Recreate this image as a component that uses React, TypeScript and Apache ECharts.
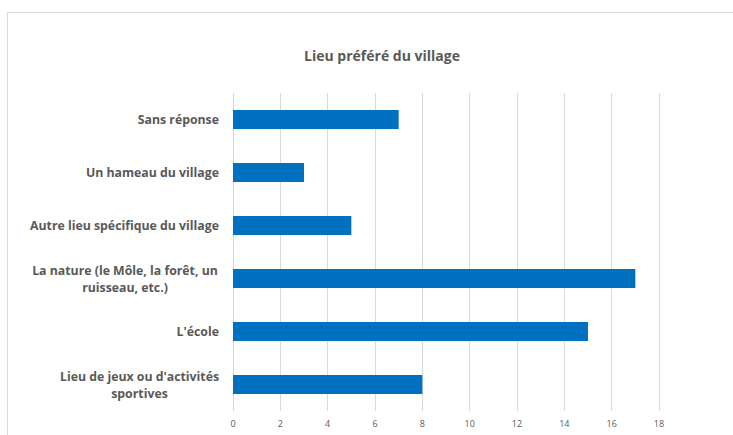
import React, { useEffect, useRef } from "react";
import * as echarts from "echarts";

const categories = [
  "Sans réponse",
  "Un hameau du village",
  "Autre lieu spécifique du village",
  "La nature (le Môle, la forêt, un\nruisseau, etc.)",
  "L'école",
  "Lieu de jeux ou d'activités\nsportives",
];
const values = [7, 3, 5, 17, 15, 8];
const titleText = "Lieu préféré du village";

const FONT = "'Open Sans'";

export default function App() {
  const ref = useRef<HTMLDivElement>(null);
  useEffect(() => {
    document.body.style.margin = "0";
    const chart = echarts.init(ref.current!, null, { renderer: "svg" });
    const labelStyle = {
      fontFamily: FONT,
      fontSize: 12.3,
      fontWeight: "bold",
      color: "#595959",
      lineHeight: 17,
    };
    chart.setOption({
      animation: false,
      backgroundColor: "#ffffff",
      title: {
        text: titleText,
        left: 377,
        top: 43,
        textAlign: "center",
        textStyle: {
          fontFamily: FONT,
          fontSize: 14,
          fontWeight: "bold",
          color: "#595959",
        },
      },
      graphic: [
        {
          type: "rect",
          shape: { x: 7.5, y: 12.5, width: 800, height: 500 },
          style: { fill: "none", stroke: "#d9d9d9", lineWidth: 1 },
          silent: true,
          z: -1,
        },
      ],
      grid: { left: 233, right: 74, top: 93, bottom: 24, containLabel: false },
      xAxis: {
        type: "value",
        min: 0,
        max: 18,
        interval: 2,
        axisLine: { show: false },
        axisTick: { show: false },
        splitLine: { show: true, lineStyle: { color: "#d9d9d9", width: 1 } },
        axisLabel: {
          margin: 8,
          fontFamily: FONT,
          fontSize: 9,
          color: "#595959",
        },
      },
      yAxis: {
        type: "category",
        data: categories,
        inverse: true,
        axisLine: { show: false },
        axisTick: { show: false },
        axisLabel: {
          margin: 14,
          ...labelStyle,
          formatter: (v: string) => {
            const lines = v.split("\n");
            if (lines.length === 1) return v;
            const style = v.startsWith("La nature") ? "n" : "j";
            return lines.map((l) => `{${style}|${l}}`).join("\n");
          },
          rich: {
            n: { width: 188, align: "center", ...labelStyle },
            j: { width: 159, align: "center", ...labelStyle },
          },
        },
      },
      series: [
        {
          type: "bar",
          data: values,
          barWidth: 19,
          itemStyle: { color: "#0070C0" },
        },
      ],
    });
    return () => chart.dispose();
  }, []);
  return <div ref={ref} style={{ width: 733, height: 435 }} />;
}
